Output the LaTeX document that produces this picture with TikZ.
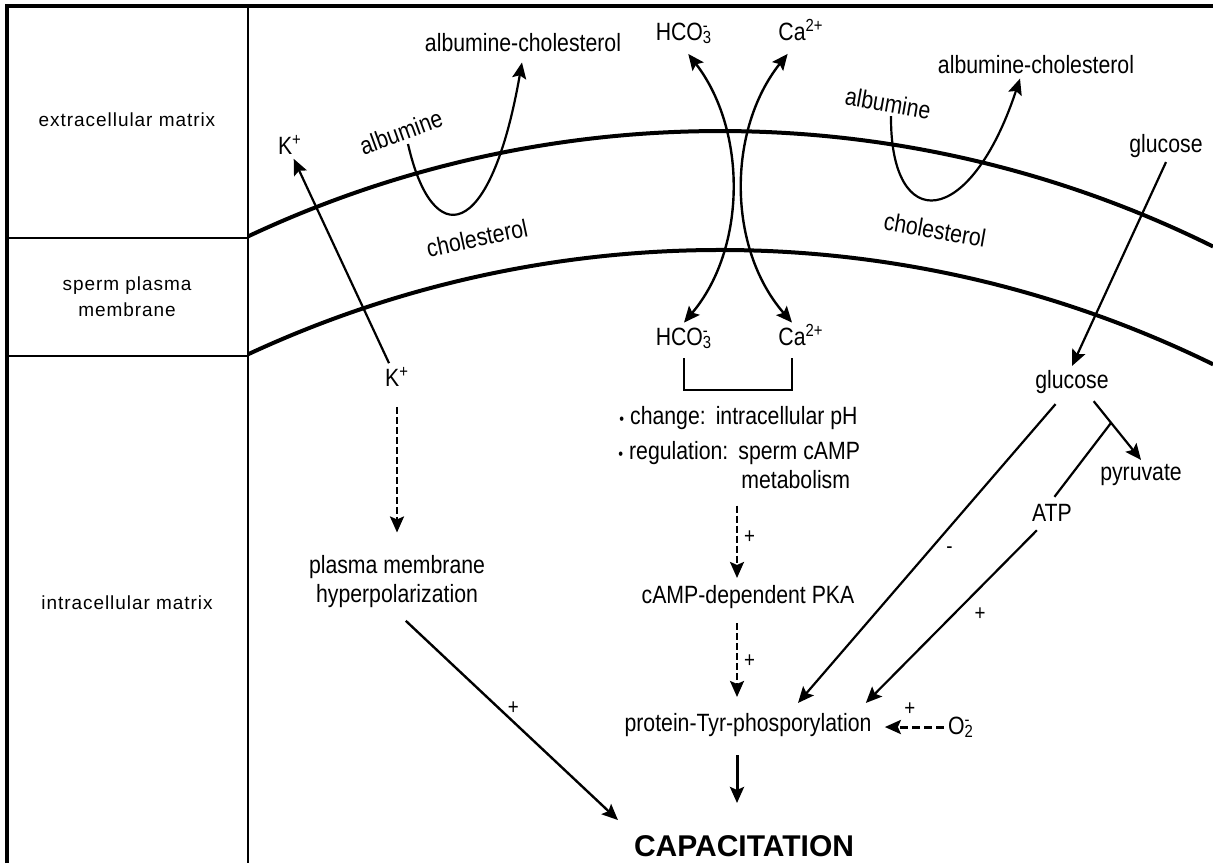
\documentclass[tikz,border=0pt]{standalone}
\usepackage{fontspec}
\setmainfont{Liberation Sans}
\newfontfamily\narrowsf[FakeStretch=0.85]{Liberation Sans}
\newfontfamily\widesf[LetterSpace=5]{Liberation Sans}
\usetikzlibrary{arrows.meta}
\usetikzlibrary{calc}
\newcommand{\ionsub}[2]{\rlap{\textsuperscript{#2}}\textsubscript{#1}}
\newcommand{\dotmark}{{\fontsize{8}{8}\selectfont\textbullet}\hspace{3pt}}

\begin{document}
\begin{tikzpicture}[x=0.5pt,y=-0.5pt,
		lbl/.style={font=\narrowsf\fontsize{12.5}{14.5}\selectfont,inner sep=2pt,align=center},
		ion/.style={lbl,text height=9pt,text depth=2pt},
		zone/.style={font=\widesf\fontsize{9.5}{13}\selectfont,align=center},
		signlbl/.style={font=\narrowsf\fontsize{11}{12}\selectfont,inner sep=1pt},
		arr/.style={-{Stealth[length=8pt,width=7pt,inset=1.5pt]},line width=1.1pt},
		biarr/.style={{Stealth[length=8pt,width=7pt,inset=1.5pt]}-{Stealth[length=8pt,width=7pt,inset=1.5pt]},line width=1.2pt},
		darr/.style={arr,line width=1.2pt,dash pattern=on 3.5pt off 1.5pt},
		memb/.style={line width=2pt},
		frameline/.style={line width=1.3pt}
		]
		\useasboundingbox (0,0) rectangle (1213,863);
		% frame and compartments
		\draw[frameline,line width=2pt] (7,863) -- (7,6) -- (1213,6);
		\draw[frameline] (248,6) -- (248,863);
		\draw[frameline] (7,238) -- (248,238);
		\draw[frameline] (7,356) -- (248,356);
		\node (ecm) [zone] at (127,120) {extracellular matrix};
		\node (spm) [zone] at (127,297) {sperm plasma\\membrane};
		\node (icm) [zone] at (127,603) {intracellular matrix};
		% plasma membrane
		\draw[memb] (248,236.4) arc[start angle=-115.17,end angle=-63.63,radius=1110];
		\draw[memb] (248,354.3) arc[start angle=-114.93,end angle=-63.88,radius=1120];
		% labels
		\node (kout) [lbl] at (290,145) {K\textsuperscript{+}};
		\node (kin) [lbl] at (397,377) {K\textsuperscript{+}};
		\node (albL) [lbl,rotate=20] at (401,132) {albumine};
		\node (chlL) [lbl,rotate=12] at (477,238) {cholesterol};
		\node (aclL) [lbl] at (523,43) {albumine-cholesterol};
		\node (albR) [lbl,rotate=-10] at (888,103) {albumine};
		\node (chlR) [lbl,rotate=-10] at (935,230) {cholesterol};
		\node (aclR) [lbl] at (1036,65) {albumine-cholesterol};
		\node (hco3t) [ion] at (684,33) {HCO\ionsub{3}{-}};
		\node (cat) [ion] at (792,33) {Ca\rlap{\textsuperscript{2+}}};
		\node (hco3b) [ion] at (684,338) {HCO\ionsub{3}{-}};
		\node (cab) [ion] at (792,338) {Ca\rlap{\textsuperscript{2+}}};
		\node (glo) [lbl] at (1166,146) {glucose};
		\node (gli) [lbl] at (1072,382) {glucose};
		\node (pyr) [lbl] at (1141,475) {pyruvate};
		\node (atp) [lbl] at (1052,513) {ATP};
		\node (o2) [ion] at (961,727) {O\ionsub{2}{-}};
		\node (chg) [lbl,anchor=west] at (615,418) {\dotmark change:\hspace{5pt}intracellular pH};
		\node (reg) [lbl,anchor=west] at (614,453) {\dotmark regulation:\hspace{5pt}sperm cAMP};
		\node (met) [lbl,anchor=west] at (737,480) {metabolism};
		\node (pka) [lbl] at (748,597) {cAMP-dependent PKA};
		\node (ptp) [lbl] at (748,725) {protein-Tyr-phosporylation};
		\node (hyp) [lbl] at (397,582) {plasma membrane\\hyperpolarization};
		\node (cap) [lbl,font=\bfseries\fontsize{15}{18}\selectfont] at (744,846) {CAPACITATION};
		% K+ efflux
		\draw[arr] (kin.120) -- (kout.-75);
		\draw[darr,shorten <=8pt,shorten >=9.5pt] (kin.south) -- (hyp.north);
		\draw[arr,line width=1.2pt,shorten <=6pt,shorten >=8pt] (hyp.south) -- (cap.north west) node[signlbl,midway,above=2pt] {+};
		% cholesterol removal
		\coordinate (uls) at (408,144);
		\coordinate (urs) at (891,116);
		\draw[arr,shorten >=3pt] (uls) .. controls (432,250) and (490,245) .. (aclL.south);
		\draw[arr] (urs) .. controls (890,235) and (970,230) .. ($(aclR.south)+(-16,0)$);
		% bicarbonate and calcium
		\draw[biarr,shorten <=3.5pt] (hco3t.south) .. controls (747,130) and (747,248) .. (hco3b.north);
		\draw[biarr,shorten <=3.5pt] (cat.south) .. controls (727,130) and (727,248) .. (cab.north);
		\draw[line width=1pt,shorten <=2.5pt,shorten >=2.5pt] (hco3b.south) -- ++(0,37) -| (cab.south);
		% cAMP pathway
		\draw[darr,shorten <=6pt,shorten >=1.5pt] (met.south west) -- (met.south west |- pka.north) node[signlbl,midway,right=2pt] {+};
		\draw[darr,shorten <=5pt,shorten >=6pt] (met.south west |- pka.south) -- (met.south west |- ptp.north) node[signlbl,midway,right=2pt] {+};
		\draw[arr,line width=1.5pt,shorten <=7pt,shorten >=14pt] (met.south west |- ptp.south) -- (met.south west |- cap.north);
		% glucose metabolism
		\draw[arr] (glo.south) -- (gli.north);
		\draw[arr,shorten <=2pt] (gli.-40) -- coordinate[pos=.4] (br) (pyr.north);
		\draw[line width=1.1pt,shorten >=2pt] (br) -- (atp.north);
		\draw[arr,shorten <=3pt] (atp.-130) -- ($(ptp.north east)+(-10,-6)$) node[signlbl,midway,right=9pt] {+};
		\draw[arr,shorten <=4pt] (gli.-125) -- ($(ptp.north)+(50,-6)$) node[signlbl,midway,right=7pt] {-};
		\draw[darr,line width=1.5pt,dash pattern=on 4pt off 2pt,shorten >=4.5pt] (o2.west) -- (o2.west -| ptp.east) node[signlbl,midway,above=4pt] {+};
\end{tikzpicture}
\end{document}
